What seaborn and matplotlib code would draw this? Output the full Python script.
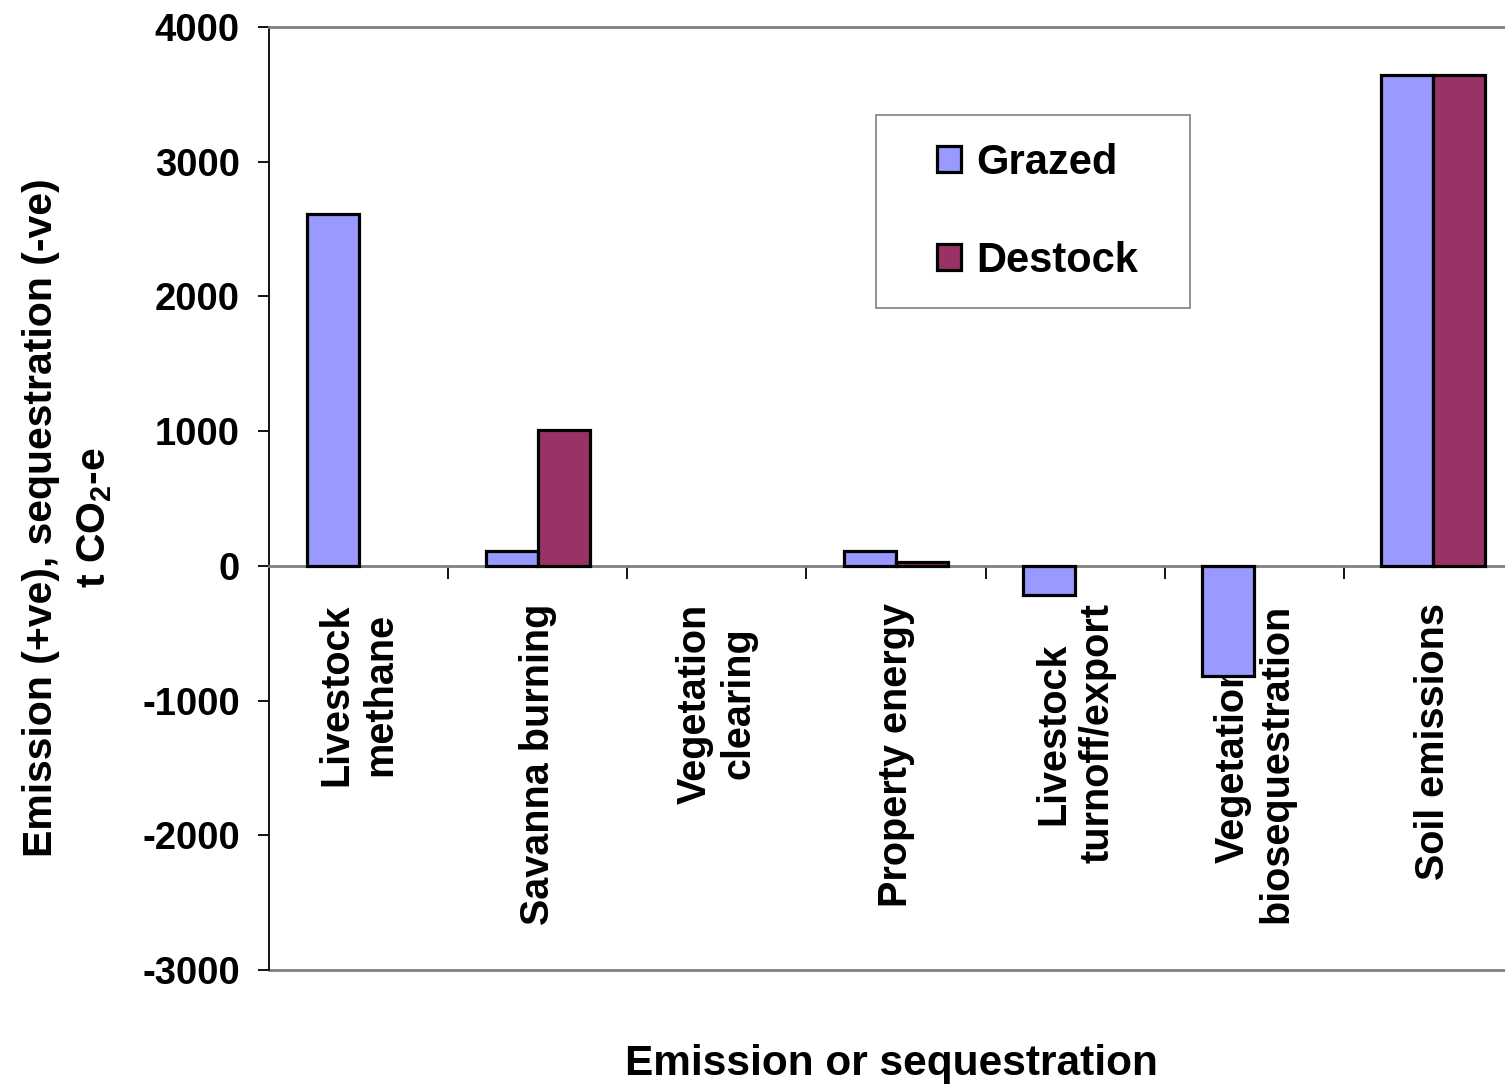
import numpy as np
import pandas as pd
import matplotlib
matplotlib.use("Agg")
import matplotlib.pyplot as plt
from matplotlib.patches import Patch, Rectangle
from matplotlib.ticker import FixedLocator
import seaborn as sns

# Emission sources / sinks and their annual totals (t CO2-e)
categories = [
    "Livestock\nmethane",
    "Savanna burning",
    "Vegetation\nclearing",
    "Property energy",
    "Livestock\nturnoff/export",
    "Vegetation\nbiosequestration",
    "Soil emissions",
]
grazed = [2610, 110, 0, 110, -215, -815, 3640]
destock = [0, 1010, 0, 25, 0, 0, 3640]
series = ["Grazed", "Destock"]
colors = ["#9999FF", "#993366"]
yticks = [4000, 3000, 2000, 1000, 0, -1000, -2000, -3000]

sns.set_style("ticks")
plt.rcParams["font.family"] = ["Liberation Sans", "DejaVu Sans"]
plt.rcParams["font.weight"] = "bold"
plt.rcParams["mathtext.default"] = "regular"
for key in ("text.color", "axes.labelcolor", "xtick.color", "ytick.color"):
    plt.rcParams[key] = "black"

df = pd.DataFrame({
    "category": categories * 2,
    "scenario": ["Grazed"] * len(categories) + ["Destock"] * len(categories),
    "value": grazed + destock,
})
# zero entries have no bar at all
df["value"] = df["value"].replace(0, np.nan)

W, H = 1505, 1084
fig = plt.figure(figsize=(W / 100, H / 100), dpi=100)
# plot area runs slightly past the right edge of the canvas
ax = fig.add_axes([269 / W, 1 - 970 / H, 1254 / W, (970 - 27) / H])

sns.barplot(
    data=df, x="category", y="value", hue="scenario",
    order=categories, hue_order=series, palette=colors, saturation=1,
    width=0.58, edgecolor="black", linewidth=2.3,
    errorbar=None, legend=False, ax=ax, zorder=3,
)

ax.set_xlim(-0.5, len(categories) - 0.5)
ax.set_ylim(-3000, 4000)
ax.set_yticks(yticks)
ax.set_yticklabels([str(v) for v in yticks])

# spines: category axis sits on zero, grey frame lines top and bottom
grey = "#808080"
ax.spines["right"].set_visible(False)
ax.spines["left"].set_color("black")
ax.spines["left"].set_linewidth(1.3)
ax.spines["top"].set_color(grey)
ax.spines["top"].set_linewidth(2)
ax.spines["bottom"].set_position(("data", 0))
ax.spines["bottom"].set_color(grey)
ax.spines["bottom"].set_linewidth(2)
ax.axhline(-3000, color=grey, lw=2, zorder=1, clip_on=False)

ax.tick_params(axis="y", direction="out", length=8, width=1.3, pad=13,
               labelsize=27.5, color="black")
ax.tick_params(axis="x", which="major", length=0, pad=27, labelsize=28.5)
ax.xaxis.set_minor_locator(FixedLocator(np.arange(0.5, len(categories) - 1, 1.0)))
ax.tick_params(axis="x", which="minor", direction="out", length=9, width=1.3,
               color="black")

for lbl in ax.get_xticklabels():
    lbl.set_rotation(90)
    lbl.set_verticalalignment("top")
    lbl.set_horizontalalignment("center")
    lbl.set_multialignment("center")
    lbl.set_fontweight("bold")
for lbl in ax.get_yticklabels():
    lbl.set_fontweight("bold")

ax.set_xlabel("Emission or sequestration", fontsize=30.5, fontweight="bold")
ax.xaxis.set_label_coords(0.4965, -0.078)
ax.set_ylabel("Emission (+ve), sequestration (-ve)\nt CO$_2$-e",
              fontsize=29.5, fontweight="bold", multialignment="center",
              linespacing=1.5)
ax.yaxis.set_label_coords(-0.124, 0.48)

# legend box with its entries
fig.patches.append(Rectangle(
    (876 / W, 1 - 308 / H), (1190 - 876) / W, (308 - 115) / H,
    transform=fig.transFigure, facecolor="white", edgecolor=grey,
    linewidth=1.2, zorder=4,
))
handles = [Patch(facecolor=c, edgecolor="black", linewidth=2.3) for c in colors]
leg = fig.legend(
    handles, series, loc="upper left",
    bbox_to_anchor=(937 / W, 1 - 143 / H),
    prop={"size": 30, "weight": "bold"},
    frameon=False,
    handlelength=0.58, handleheight=0.58, handletextpad=0.36,
    labelspacing=1.38, borderpad=0, borderaxespad=0,
)
leg.set_zorder(5)

fig.savefig("out.png", dpi=100)
